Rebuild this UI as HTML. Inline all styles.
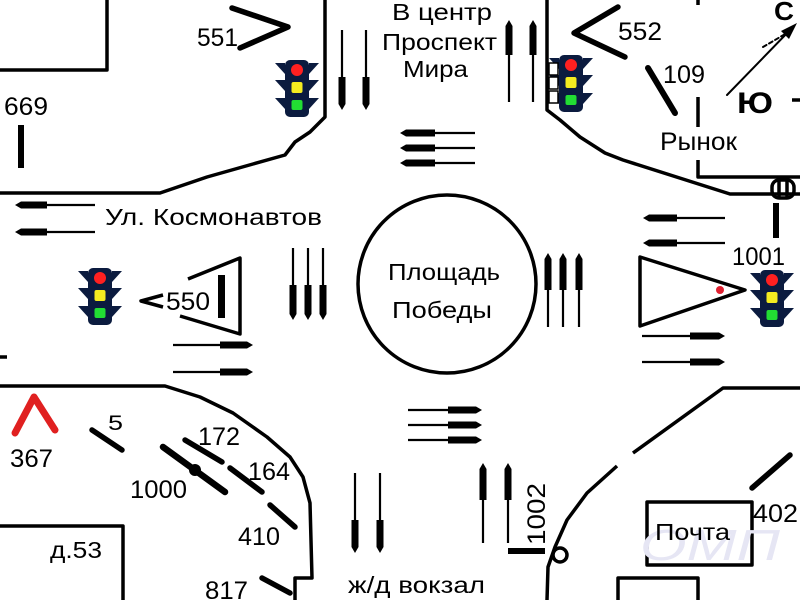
<!DOCTYPE html>
<html><head><meta charset="utf-8"><style>
html,body{margin:0;padding:0;background:#fff;width:800px;height:600px;overflow:hidden}
svg{display:block}
text{font-family:"Liberation Sans","DejaVu Sans",sans-serif;fill:#000}
</style></head><body>
<svg width="800" height="600" viewBox="0 0 800 600" xmlns="http://www.w3.org/2000/svg">
<defs>
<g id="tl">
  <polygon points="0,3 10,3 10,14" fill="#0b1b3f"/>
  <polygon points="0,20 10,20 10,31" fill="#0b1b3f"/>
  <polygon points="0,38 10,38 10,49" fill="#0b1b3f"/>
  <polygon points="44,3 34,3 34,14" fill="#0b1b3f"/>
  <polygon points="44,20 34,20 34,31" fill="#0b1b3f"/>
  <polygon points="44,38 34,38 34,49" fill="#0b1b3f"/>
  <rect x="10" y="0" width="24" height="57" rx="5" fill="#0b1b3f"/>
  <circle cx="22" cy="10" r="6" fill="#ff2020"/>
  <rect x="16.5" y="22" width="11" height="11" rx="2" fill="#f4ec20"/>
  <rect x="16.5" y="40" width="11" height="10" rx="2" fill="#22dd33"/>
</g>
</defs>
<rect width="800" height="600" fill="#fff"/>

<g fill="none" stroke="#000" stroke-width="3.5" stroke-linejoin="round">
  <polyline points="0,70 107,70 107,0"/>
  <polyline points="325,0 325,117 310,132 295,142 285,155 253,164 207,177 160,193 0,193"/>
  <polyline points="547,0 547,110 560,120 580,137 605,153 623,160 730,194 800,194"/>
  <polyline points="698,97 698,127"/>
  <polyline points="698,160 698,177 800,177"/>
  <polyline points="0,386 165,386 200,397 233,413 267,437 290,457 303,477 310,503 312,578 295,578 295,600"/>
  <polyline points="800,388 723,388 633,453"/>
  <polyline points="617,466 587,493 567,520 555,547 548,567 547,600"/>
  <circle cx="560" cy="555" r="7"/>
  <polyline points="0,526 123,526 123,600"/>
  <rect x="647" y="502" width="105" height="63"/>
  <polyline points="618,600 618,578 698,578 698,600"/>
  <circle cx="447" cy="284" r="89"/>
  <polyline points="188,279 240,258 240,334 180,316"/>
  <polyline points="163,295 141,301 163,307"/>
  <polygon points="640,257 745,290 640,326"/>
  <rect x="772" y="180" width="22" height="18" rx="7"/>
  <line x1="779" y1="180" x2="779" y2="198"/>
  <line x1="787" y1="180" x2="787" y2="198"/>
  <line x1="0" y1="357" x2="7" y2="357"/>
  <line x1="792" y1="100" x2="800" y2="100"/>
  <line x1="698" y1="0" x2="698" y2="5"/>
</g>

<text x="640" y="560" font-size="44" font-style="italic" style="fill:#e6e6f4" textLength="140" lengthAdjust="spacingAndGlyphs">ОМП</text>

<g stroke="#000" stroke-linecap="round" fill="none">
  <polyline points="232,8 288,27 240,48" stroke-width="5.5" stroke-linejoin="round"/>
  <polyline points="618,7 574,33 625,57" stroke-width="5.5" stroke-linejoin="round"/>
  <line x1="648" y1="68" x2="675" y2="113" stroke-width="6"/>
  <line x1="92" y1="430" x2="122" y2="450" stroke-width="5.5"/>
  <line x1="163" y1="447" x2="225" y2="492" stroke-width="6.5"/>
  <line x1="185" y1="440" x2="222" y2="462" stroke-width="5.5"/>
  <line x1="230" y1="468" x2="262" y2="492" stroke-width="5.5"/>
  <line x1="270" y1="505" x2="295" y2="527" stroke-width="5.5"/>
  <line x1="262" y1="578" x2="290" y2="593" stroke-width="5.5"/>
  <line x1="752" y1="488" x2="790" y2="455" stroke-width="5.5"/>
  <polyline points="15,433 34,397 55,430" stroke="#e02020" stroke-width="7" stroke-linejoin="round"/>
  <line x1="727" y1="95" x2="792" y2="28" stroke-width="2"/>
  <line x1="763" y1="47" x2="787" y2="33" stroke-width="2" stroke-dasharray="4,3"/>
</g>
<circle cx="195" cy="470" r="6" fill="#000"/>
<polygon points="797,23 781,31 789,39" fill="#000"/>
<circle cx="720" cy="290" r="4" fill="#e02030"/>
<rect x="18" y="125" width="6" height="43" fill="#000"/>
<rect x="218" y="275" width="7" height="43" fill="#000"/>
<rect x="773" y="203" width="6" height="35" fill="#000"/>
<rect x="508" y="548" width="37" height="6" fill="#000"/>

<g fill="#000">
  <path d="M400,133 L406,129.5 L435,129.5 L435,136.5 L406,136.5 Z"/>
  <path d="M400,148 L406,144.5 L435,144.5 L435,151.5 L406,151.5 Z"/>
  <path d="M400,163 L406,159.5 L435,159.5 L435,166.5 L406,166.5 Z"/>
  <path d="M15,205 L21,201.5 L47,201.5 L47,208.5 L21,208.5 Z"/>
  <path d="M15,232 L21,228.5 L47,228.5 L47,235.5 L21,235.5 Z"/>
  <path d="M643,218 L649,214.5 L677,214.5 L677,221.5 L649,221.5 Z"/>
  <path d="M643,243 L649,239.5 L677,239.5 L677,246.5 L649,246.5 Z"/>
  <path d="M253,345 L247,341.5 L220,341.5 L220,348.5 L247,348.5 Z"/>
  <path d="M253,372 L247,368.5 L220,368.5 L220,375.5 L247,375.5 Z"/>
  <path d="M482,410 L476,406.5 L448,406.5 L448,413.5 L476,413.5 Z"/>
  <path d="M482,425 L476,421.5 L448,421.5 L448,428.5 L476,428.5 Z"/>
  <path d="M482,440 L476,436.5 L448,436.5 L448,443.5 L476,443.5 Z"/>
  <path d="M725,336 L719,332.5 L690,332.5 L690,339.5 L719,339.5 Z"/>
  <path d="M725,362 L719,358.5 L690,358.5 L690,365.5 L719,365.5 Z"/>
  <path d="M342,110 L338.5,104 L338.5,77 L345.5,77 L345.5,104 Z"/>
  <path d="M366,110 L362.5,104 L362.5,77 L369.5,77 L369.5,104 Z"/>
  <path d="M293,320 L289.5,314 L289.5,285 L296.5,285 L296.5,314 Z"/>
  <path d="M308,320 L304.5,314 L304.5,285 L311.5,285 L311.5,314 Z"/>
  <path d="M323,320 L319.5,314 L319.5,285 L326.5,285 L326.5,314 Z"/>
  <path d="M355,553 L351.5,547 L351.5,520 L358.5,520 L358.5,547 Z"/>
  <path d="M380,553 L376.5,547 L376.5,520 L383.5,520 L383.5,547 Z"/>
  <path d="M509,20 L505.5,26 L505.5,55 L512.5,55 L512.5,26 Z"/>
  <path d="M533,20 L529.5,26 L529.5,55 L536.5,55 L536.5,26 Z"/>
  <path d="M548,253 L544.5,259 L544.5,290 L551.5,290 L551.5,259 Z"/>
  <path d="M563,253 L559.5,259 L559.5,290 L566.5,290 L566.5,259 Z"/>
  <path d="M579,253 L575.5,259 L575.5,290 L582.5,290 L582.5,259 Z"/>
  <path d="M483,463 L479.5,469 L479.5,500 L486.5,500 L486.5,469 Z"/>
  <path d="M508,463 L504.5,469 L504.5,500 L511.5,500 L511.5,469 Z"/>
</g>
<g stroke="#000" stroke-width="2.2">
  <line x1="435" y1="133" x2="475" y2="133"/>
  <line x1="435" y1="148" x2="475" y2="148"/>
  <line x1="435" y1="163" x2="475" y2="163"/>
  <line x1="47" y1="205" x2="95" y2="205"/>
  <line x1="47" y1="232" x2="95" y2="232"/>
  <line x1="677" y1="218" x2="725" y2="218"/>
  <line x1="677" y1="243" x2="725" y2="243"/>
  <line x1="173" y1="345" x2="220" y2="345"/>
  <line x1="173" y1="372" x2="220" y2="372"/>
  <line x1="408" y1="410" x2="448" y2="410"/>
  <line x1="408" y1="425" x2="448" y2="425"/>
  <line x1="408" y1="440" x2="448" y2="440"/>
  <line x1="642" y1="336" x2="690" y2="336"/>
  <line x1="642" y1="362" x2="690" y2="362"/>
  <line x1="342" y1="30" x2="342" y2="77"/>
  <line x1="366" y1="30" x2="366" y2="77"/>
  <line x1="293" y1="248" x2="293" y2="285"/>
  <line x1="308" y1="248" x2="308" y2="285"/>
  <line x1="323" y1="248" x2="323" y2="285"/>
  <line x1="355" y1="473" x2="355" y2="520"/>
  <line x1="380" y1="473" x2="380" y2="520"/>
  <line x1="509" y1="55" x2="509" y2="102"/>
  <line x1="533" y1="55" x2="533" y2="102"/>
  <line x1="548" y1="290" x2="548" y2="327"/>
  <line x1="563" y1="290" x2="563" y2="327"/>
  <line x1="579" y1="290" x2="579" y2="327"/>
  <line x1="483" y1="500" x2="483" y2="543"/>
  <line x1="508" y1="500" x2="508" y2="543"/>
</g>

<use href="#tl" x="275" y="60"/>
<use href="#tl" x="549" y="55"/>
<g fill="#fff" stroke="#000" stroke-width="1.5">
  <rect x="549" y="63" width="9" height="12"/>
  <rect x="549" y="77" width="9" height="12"/>
  <rect x="549" y="91" width="9" height="12"/>
</g>
<use href="#tl" x="78" y="268"/>
<use href="#tl" x="750" y="270"/>

<g font-size="25">
  <text x="197" y="46" textLength="41" lengthAdjust="spacingAndGlyphs">551</text>
  <text x="4" y="115" textLength="44" lengthAdjust="spacingAndGlyphs">669</text>
  <text x="618" y="40" textLength="44" lengthAdjust="spacingAndGlyphs">552</text>
  <text x="663" y="83" textLength="42" lengthAdjust="spacingAndGlyphs">109</text>
  <text x="166" y="310" textLength="44" lengthAdjust="spacingAndGlyphs">550</text>
  <text x="732" y="265" textLength="53" lengthAdjust="spacingAndGlyphs">1001</text>
  <text x="10" y="467" textLength="43" lengthAdjust="spacingAndGlyphs">367</text>
  <text x="108" y="430" font-size="21" textLength="15" lengthAdjust="spacingAndGlyphs">5</text>
  <text x="198" y="445" textLength="42" lengthAdjust="spacingAndGlyphs">172</text>
  <text x="130" y="498" textLength="57" lengthAdjust="spacingAndGlyphs">1000</text>
  <text x="248" y="480" textLength="42" lengthAdjust="spacingAndGlyphs">164</text>
  <text x="238" y="545" textLength="42" lengthAdjust="spacingAndGlyphs">410</text>
  <text x="205" y="599" textLength="43" lengthAdjust="spacingAndGlyphs">817</text>
  <text x="753" y="522" textLength="45" lengthAdjust="spacingAndGlyphs">402</text>
  <text transform="translate(545,545) rotate(-90)" x="0" y="0" textLength="62" lengthAdjust="spacingAndGlyphs">1002</text>
</g>
<g font-size="23">
  <text x="392" y="20" textLength="100" lengthAdjust="spacingAndGlyphs">В центр</text>
  <text x="382" y="50" textLength="115" lengthAdjust="spacingAndGlyphs">Проспект</text>
  <text x="403" y="77" textLength="65" lengthAdjust="spacingAndGlyphs">Мира</text>
  <text x="660" y="150" font-size="25" textLength="77" lengthAdjust="spacingAndGlyphs">Рынок</text>
  <text x="105" y="225" textLength="217" lengthAdjust="spacingAndGlyphs">Ул. Космонавтов</text>
  <text x="388" y="280" textLength="112" lengthAdjust="spacingAndGlyphs">Площадь</text>
  <text x="392" y="318" textLength="100" lengthAdjust="spacingAndGlyphs">Победы</text>
  <text x="50" y="558" textLength="52" lengthAdjust="spacingAndGlyphs">д.53</text>
  <text x="348" y="593" textLength="137" lengthAdjust="spacingAndGlyphs">ж/д вокзал</text>
  <text x="655" y="540" textLength="75" lengthAdjust="spacingAndGlyphs">Почта</text>
</g>
<text x="774" y="20" font-size="26" font-weight="bold" textLength="20" lengthAdjust="spacingAndGlyphs">С</text>
<text x="737" y="113" font-size="30" font-weight="bold" textLength="36" lengthAdjust="spacingAndGlyphs">Ю</text>
</svg>
</body></html>
